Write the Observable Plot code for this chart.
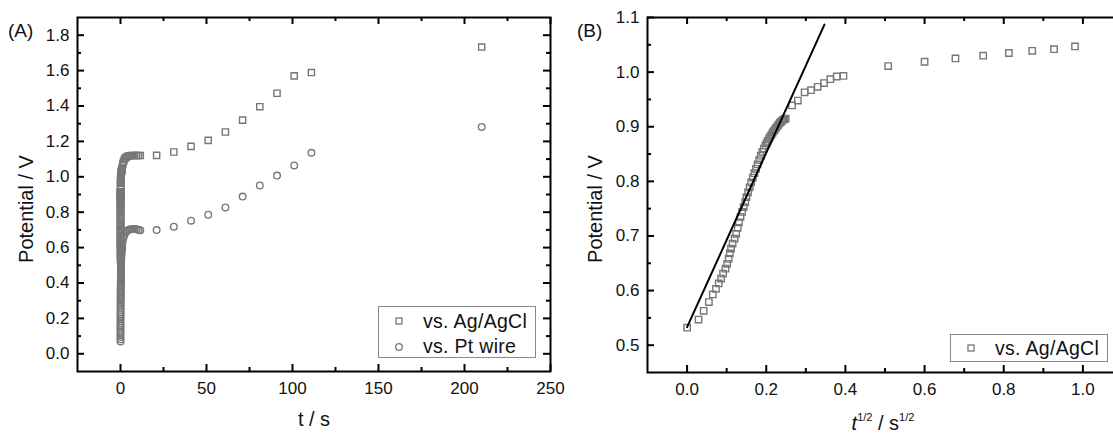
<!DOCTYPE html>
<html>
<head>
<meta charset="utf-8">
<script src="https://cdn.jsdelivr.net/npm/d3@7"></script>
<script src="https://cdn.jsdelivr.net/npm/@observablehq/plot@0.6"></script>
<style>
  html, body { margin: 0; padding: 0; background: #fff; }
  #wrap { position: relative; width: 1113px; height: 433px; overflow: hidden;
          font-family: "Liberation Sans", Arial, sans-serif; color: #111; }
  .panel { position: absolute; top: 0; }
  .tag { position: absolute; font-size: 19px; line-height: 1; }
  .ytitle { position: absolute; font-size: 20px; white-space: nowrap; line-height: 1;
            transform: translate(-50%, -50%) rotate(-90deg); }
  .xtitle { position: absolute; font-size: 20px; white-space: nowrap; line-height: 1;
            transform: translate(-50%, -50%); }
  .xtitle sup { font-size: 11px; vertical-align: 9px; line-height: 0; }
  .legend { position: absolute; border: 1.5px solid #8a8a8a; background: #fff; box-sizing: border-box; }
  .legend .row { position: absolute; left: 0; height: 24px; width: 100%; }
  .legend .row > div { position: relative; height: 24px; width: 100%; }
  .legend span { position: absolute; left: 44px; font-size: 19.5px; letter-spacing: 0.3px; white-space: nowrap; line-height: 1; }
</style>
</head>
<body>
<div id="wrap"></div>
<script>
// ---- Panel A: potential vs. time ----
// Readings at t < 1 s (vs. Pt wire), dense column at the start of the transient
const ptEarlyT = [0, 0.001, 0.002, 0.004, 0.006, 0.008, 0.01, 0.013, 0.016, 0.02, 0.024, 0.028,
  0.033, 0.038, 0.043, 0.049, 0.055, 0.061, 0.068, 0.075, 0.083, 0.091, 0.1, 0.11, 0.12, 0.13,
  0.14, 0.15, 0.16, 0.17, 0.18, 0.19, 0.2, 0.21, 0.22, 0.23, 0.24, 0.25, 0.26, 0.27, 0.28, 0.29,
  0.3, 0.32, 0.34, 0.36, 0.38, 0.4, 0.45, 0.5, 0.55, 0.6, 0.7, 0.8, 0.95];
const ptEarlyV = [0.070, 0.082, 0.095, 0.108, 0.121, 0.134, 0.147, 0.160, 0.172, 0.185, 0.198, 0.210,
  0.222, 0.234, 0.246, 0.258, 0.270, 0.281, 0.292, 0.303, 0.313, 0.323, 0.333, 0.343, 0.352, 0.361,
  0.370, 0.379, 0.388, 0.397, 0.406, 0.414, 0.422, 0.430, 0.438, 0.446, 0.454, 0.462, 0.470, 0.478,
  0.486, 0.494, 0.502, 0.510, 0.518, 0.526, 0.534, 0.542, 0.550, 0.558, 0.566, 0.574, 0.582, 0.590, 0.598];

// Readings at t >= 1 s for both reference electrodes
const lateT  = [1.0, 1.3, 1.7, 2.2, 2.8, 3.5, 4.3, 5.2, 6.2, 7.2, 8.3, 9.4, 10.5, 11.5,
  21, 31, 41, 51, 61, 71, 81, 91, 101, 111, 210];
const agLateV = [1.05, 1.07, 1.085, 1.097, 1.106, 1.112, 1.116, 1.118, 1.12, 1.12, 1.12, 1.12, 1.12, 1.12,
  1.121, 1.140, 1.172, 1.206, 1.253, 1.320, 1.396, 1.472, 1.570, 1.589, 1.733];
const ptLateV = [0.61, 0.635, 0.655, 0.67, 0.683, 0.692, 0.698, 0.702, 0.704, 0.705, 0.705, 0.703, 0.700, 0.698,
  0.699, 0.718, 0.752, 0.786, 0.827, 0.888, 0.951, 1.007, 1.064, 1.136, 1.282];

// ---- Panel B: potential vs. square root of time (vs. Ag/AgCl) ----
const sqrtT = [0.000, 0.029, 0.042, 0.055, 0.065, 0.073, 0.080, 0.086, 0.091, 0.097, 0.101, 0.105,
  0.108, 0.111, 0.115, 0.120, 0.124, 0.128, 0.131, 0.135, 0.139, 0.143, 0.147, 0.150, 0.154, 0.158,
  0.162, 0.166, 0.170, 0.174, 0.178, 0.182, 0.186, 0.190, 0.194, 0.198, 0.201, 0.204, 0.207, 0.210,
  0.213, 0.216, 0.219, 0.222, 0.225, 0.228, 0.231, 0.234, 0.237, 0.240, 0.243, 0.246, 0.249,
  0.265, 0.280, 0.297, 0.313, 0.330, 0.346, 0.362, 0.378, 0.395,
  0.508, 0.600, 0.678, 0.748, 0.813, 0.872, 0.927, 0.980];
const agEarlyV = [0.532, 0.547, 0.563, 0.579, 0.593, 0.603, 0.613, 0.622, 0.631, 0.640, 0.649, 0.658,
  0.668, 0.677, 0.686, 0.695, 0.704, 0.715, 0.725, 0.735, 0.744, 0.753, 0.762, 0.771, 0.780, 0.789,
  0.798, 0.807, 0.815, 0.823, 0.831, 0.839, 0.847, 0.854, 0.860, 0.866, 0.870, 0.874, 0.878, 0.882,
  0.885, 0.889, 0.892, 0.895, 0.898, 0.901, 0.904, 0.907, 0.909, 0.911, 0.913, 0.914, 0.915,
  0.939, 0.948, 0.963, 0.967, 0.973, 0.980, 0.987, 0.992, 0.993,
  1.011, 1.019, 1.025, 1.030, 1.035, 1.039, 1.042, 1.047];

// Linear fit of the early part
const fitSqrtT = [0, 0.347];
const fitV = [0.533, 1.087];

// Tick values
const xMajorA = [0, 50, 100, 150, 200, 250];
const xMinorA = [25, 75, 125, 175, 225];
const yMajorA = [0, 0.2, 0.4, 0.6, 0.8, 1.0, 1.2, 1.4, 1.6, 1.8];
const yMinorA = [0.1, 0.3, 0.5, 0.7, 0.9, 1.1, 1.3, 1.5, 1.7];
const xMajorB = [0, 0.2, 0.4, 0.6, 0.8, 1.0];
const xMinorB = [0.1, 0.3, 0.5, 0.7, 0.9];
const yMajorB = [0.5, 0.6, 0.7, 0.8, 0.9, 1.0, 1.1];
const yMinorB = [0.55, 0.65, 0.75, 0.85, 0.95, 1.05];

// ---- tables built from the arrays above ----
const agA = sqrtT.map((s, i) => ({t: s * s, v: agEarlyV[i]}))
  .concat(lateT.map((t, i) => ({t, v: agLateV[i]})));
const ptA = ptEarlyT.map((t, i) => ({t, v: ptEarlyV[i]}))
  .concat(lateT.map((t, i) => ({t, v: ptLateV[i]})));
const agB = sqrtT.map((s, i) => ({s, v: agEarlyV[i]}));
const fitB = fitSqrtT.map((s, i) => ({s, v: fitV[i]}));

const H = 433;
const markerStroke = "#777";

function panel({width, margin, xDomain, yDomain, xMajor, xMinor, yMajor, yMinor, xFmt, yFmt, marks}) {
  const innerW = width - margin.left - margin.right;
  const innerH = H - margin.top - margin.bottom;
  const MAJ = 7, MIN = 4;
  const tk = {stroke: "#000", strokeWidth: 2};
  return Plot.plot({
    width, height: H,
    marginTop: margin.top, marginRight: margin.right, marginBottom: margin.bottom, marginLeft: margin.left,
    x: {domain: xDomain, label: null},
    y: {domain: yDomain, label: null},
    style: {fontFamily: "'Liberation Sans', Arial, sans-serif", fontSize: "17px", color: "#111", background: "transparent"},
    marks: [
      ...marks,
      Plot.ruleX(xMajor, {...tk, insetTop: innerH - MAJ}),
      Plot.ruleX(xMajor, {...tk, insetBottom: innerH - MAJ}),
      Plot.ruleX(xMinor, {...tk, insetTop: innerH - MIN}),
      Plot.ruleX(xMinor, {...tk, insetBottom: innerH - MIN}),
      Plot.ruleY(yMajor, {...tk, insetRight: innerW - MAJ}),
      Plot.ruleY(yMajor, {...tk, insetLeft: innerW - MAJ}),
      Plot.ruleY(yMinor, {...tk, insetRight: innerW - MIN}),
      Plot.ruleY(yMinor, {...tk, insetLeft: innerW - MIN}),
      Plot.frame({stroke: "#000", strokeWidth: 2}),
      Plot.axisX(xMajor, {tickSize: 0, tickPadding: 10, tickFormat: xFmt, label: null}),
      Plot.axisY(yMajor, {tickSize: 0, tickPadding: 8, tickFormat: yFmt, label: null})
    ]
  });
}

const chartA = panel({
  width: 570,
  margin: {top: 17, right: 20, bottom: 62, left: 77},
  xDomain: [-25, 250], yDomain: [-0.1, 1.9],
  xMajor: xMajorA, xMinor: xMinorA, yMajor: yMajorA, yMinor: yMinorA,
  xFmt: d3.format("d"), yFmt: d3.format(".1f"),
  marks: [
    Plot.dot(ptA, {x: "t", y: "v", symbol: "circle", r: 3.3, fill: "none", stroke: markerStroke, strokeWidth: 1.4}),
    Plot.dot(agA, {x: "t", y: "v", symbol: "square", r: 3.5, fill: "none", stroke: markerStroke, strokeWidth: 1.4})
  ]
});

const chartB = panel({
  width: 560,
  margin: {top: 17, right: 8, bottom: 61, left: 77},
  xDomain: [-0.1, 1.1], yDomain: [0.45, 1.1],
  xMajor: xMajorB, xMinor: xMinorB, yMajor: yMajorB, yMinor: yMinorB,
  xFmt: d3.format(".1f"), yFmt: d3.format(".1f"),
  marks: [
    Plot.dot(agB, {x: "s", y: "v", symbol: "square", r: 3.6, fill: "none", stroke: markerStroke, strokeWidth: 1.4}),
    Plot.line(fitB, {x: "s", y: "v", stroke: "#000", strokeWidth: 2})
  ]
});

const wrap = document.getElementById("wrap");
function place(el, left) { el.classList.add("panel"); el.style.left = left + "px"; wrap.appendChild(el); }
place(chartA, 0);
place(chartB, 570);

function html(s) { const d = document.createElement("div"); d.innerHTML = s; return d.firstElementChild; }
const pos = 'style="position:absolute;left:14px;top:6px"';
const sq = '<svg ' + pos + ' width="12" height="12" viewBox="0 0 12 12"><rect x="3" y="3" width="6" height="6" fill="none" stroke="' + markerStroke + '" stroke-width="1.3"/></svg>';
const ci = '<svg ' + pos + ' width="12" height="12" viewBox="0 0 12 12"><circle cx="6" cy="6" r="3.3" fill="none" stroke="' + markerStroke + '" stroke-width="1.3"/></svg>';

wrap.appendChild(html('<div class="tag" style="left:8px;top:21px">(A)</div>'));
wrap.appendChild(html('<div class="tag" style="left:577px;top:21px">(B)</div>'));
wrap.appendChild(html('<div class="ytitle" style="left:26px;top:209px">Potential / V</div>'));
wrap.appendChild(html('<div class="ytitle" style="left:595px;top:209px">Potential / V</div>'));
wrap.appendChild(html('<div class="xtitle" style="left:314px;top:419px">t / s</div>'));
wrap.appendChild(html('<div class="xtitle" style="left:883px;top:423px"><i>t</i><sup>1/2</sup> / s<sup>1/2</sup></div>'));

wrap.appendChild(html(
  '<div class="legend" style="left:378px;top:306px;width:158px;height:52px">' +
    '<div class="row" style="top:2px"><div>' + sq + '<span style="top:3px">vs. Ag/AgCl</span></div></div>' +
    '<div class="row" style="top:28px"><div>' + ci + '<span style="top:2px">vs. Pt wire</span></div></div>' +
  '</div>'));
wrap.appendChild(html(
  '<div class="legend" style="left:950px;top:334px;width:158px;height:28px">' +
    '<div class="row" style="top:1px"><div>' + sq + '<span style="top:3px">vs. Ag/AgCl</span></div></div>' +
  '</div>'));
</script>
</body>
</html>
